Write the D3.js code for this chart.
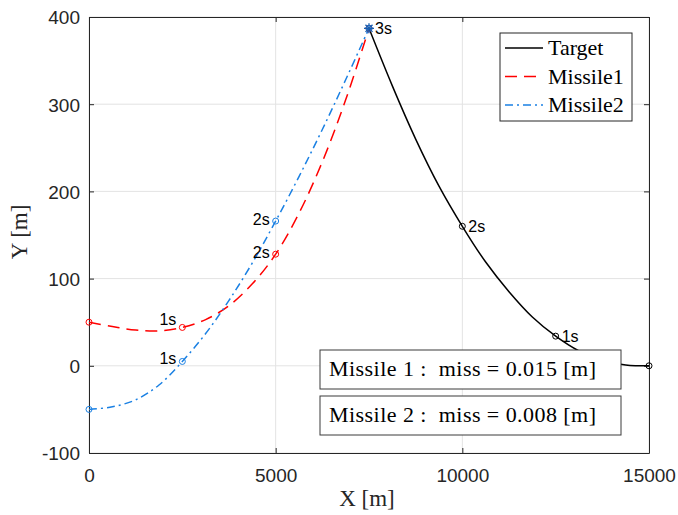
<!DOCTYPE html>
<html>
<head>
<meta charset="utf-8">
<script src="https://cdn.jsdelivr.net/npm/d3@7"></script>
<style>
  body { margin: 0; background: #fff; }
  svg { display: block; }
</style>
</head>
<body>
<div id="chart"></div>
<script>
// values (x in m, y in m), samples every 0.25 s
const missileX = [0, 625, 1250, 1875, 2500, 3125, 3750, 4375, 5000, 5625, 6250, 6875, 7500];
const missile1Y = [50, 45, 41, 40, 44, 53, 69, 94, 128, 175, 234, 305, 387];
const missile2Y = [-50, -47, -39, -22, 5, 37, 75, 118, 166, 217, 271, 328, 387];
const targetX = [15000, 14375, 13750, 13125, 12500, 11875, 11250, 10625, 10000, 9375, 8750, 8125, 7500];
const targetY = [0, 1, 6, 17, 34, 56, 85, 119, 160, 206, 260, 321, 387];
const markerIdx = [0, 4, 8, 12];      // t = 0, 1, 2, 3 s
const timeLabels = ['', '1s', '2s', '3s'];
const xTicks = [0, 5000, 10000, 15000];
const yTicks = [-100, 0, 100, 200, 300, 400];
const seriesNames = ['Target', 'Missile1', 'Missile2'];
const missText = ['Missile 1 :  miss = 0.015 [m]', 'Missile 2 :  miss = 0.008 [m]'];

const W = 678, H = 515;
const pLeft = 89, pTop = 17, pRight = 649, pBottom = 453;
const axisColor = '#262626';
const sans = "'Liberation Sans', Arial, sans-serif";
const serif = "'Liberation Serif', 'Times New Roman', serif";

const svg = d3.select('#chart').append('svg')
  .attr('width', W)
  .attr('height', H);

const x = d3.scaleLinear().domain([0, 15000]).range([pLeft, pRight]);
const y = d3.scaleLinear().domain([-100, 400]).range([pBottom, pTop]);

// grid
const grid = svg.append('g');
grid.selectAll('line.gx')
  .data(xTicks)
  .join('line')
  .attr('x1', (d) => x(d)).attr('x2', (d) => x(d))
  .attr('y1', pTop).attr('y2', pBottom)
  .attr('stroke', '#e3e3e3').attr('stroke-width', 1);
grid.selectAll('line.gy')
  .data(yTicks)
  .join('line')
  .attr('x1', pLeft).attr('x2', pRight)
  .attr('y1', (d) => y(d)).attr('y2', (d) => y(d))
  .attr('stroke', '#e3e3e3').attr('stroke-width', 1);

// axes (ticks inside, box on)
const tickLen = 5;
const plain = (d) => String(d);
const xAxisB = svg.append('g')
  .attr('transform', `translate(0,${pBottom})`)
  .call(d3.axisBottom(x).tickValues(xTicks).tickFormat(plain).tickSizeInner(-tickLen).tickSizeOuter(0).tickPadding(16));
const xAxisT = svg.append('g')
  .attr('transform', `translate(0,${pTop})`)
  .call(d3.axisTop(x).tickValues(xTicks).tickSizeInner(-tickLen).tickSizeOuter(0).tickFormat(''));
const yAxisL = svg.append('g')
  .attr('transform', `translate(${pLeft},0)`)
  .call(d3.axisLeft(y).tickValues(yTicks).tickFormat(plain).tickSizeInner(-tickLen).tickSizeOuter(0).tickPadding(9));
const yAxisR = svg.append('g')
  .attr('transform', `translate(${pRight},0)`)
  .call(d3.axisRight(y).tickValues(yTicks).tickSizeInner(-tickLen).tickSizeOuter(0).tickFormat(''));

[xAxisB, xAxisT, yAxisL, yAxisR].forEach((g) => {
  g.select('.domain').attr('stroke', axisColor).attr('stroke-width', 1);
  g.selectAll('.tick line').attr('stroke', axisColor).attr('stroke-width', 1);
  g.selectAll('.tick text')
    .attr('fill', axisColor)
    .style('font', `19px ${sans}`);
});
yAxisL.selectAll('.tick text').attr('dy', '0.36em');

// axis labels
svg.append('text')
  .attr('x', 367)
  .attr('y', 506)
  .attr('text-anchor', 'middle')
  .attr('fill', axisColor)
  .style('font', `23px ${serif}`)
  .style('white-space', 'pre')
  .text('X [m]');
svg.append('text')
  .attr('transform', `translate(27,232) rotate(-90)`)
  .attr('text-anchor', 'middle')
  .attr('fill', axisColor)
  .style('font', `23px ${serif}`)
  .style('white-space', 'pre')
  .text('Y [m]');

// trajectories
const series = [
  { name: seriesNames[0], xs: targetX, ys: targetY, color: '#000000', dash: null },
  { name: seriesNames[1], xs: missileX, ys: missile1Y, color: '#ff0000', dash: '12,7' },
  { name: seriesNames[2], xs: missileX, ys: missile2Y, color: '#1a80e3', dash: '8,4,2,4' },
];

const line = d3.line()
  .x((d) => x(d[0]))
  .y((d) => y(d[1]))
  .curve(d3.curveCatmullRom.alpha(0.5));

const plot = svg.append('g');

plot.selectAll('path.traj')
  .data(series)
  .join('path')
  .attr('class', 'traj')
  .attr('fill', 'none')
  .attr('stroke', (d) => d.color)
  .attr('stroke-width', 1.5)
  .attr('stroke-dasharray', (d) => d.dash)
  .attr('d', (d) => line(d.xs.map((v, i) => [v, d.ys[i]])));

// time markers
series.forEach((s) => {
  plot.selectAll(null)
    .data(markerIdx)
    .join('circle')
    .attr('cx', (i) => x(s.xs[i]))
    .attr('cy', (i) => y(s.ys[i]))
    .attr('r', 3)
    .attr('fill', 'none')
    .attr('stroke', s.color)
    .attr('stroke-width', 1);
});

// intercept star
const hit = [missileX[12], missile2Y[12]];
const star = plot.append('g')
  .attr('transform', `translate(${x(hit[0])},${y(hit[1])})`);
[0, 45, 90, 135].forEach((a) => {
  star.append('line')
    .attr('x1', -5).attr('x2', 5)
    .attr('transform', `rotate(${a})`)
    .attr('stroke', '#1a5fb0')
    .attr('stroke-width', 1.3);
});

// time labels
const labelFont = `16px ${sans}`;
// target: right of marker
[1, 2, 3].forEach((k) => {
  const i = markerIdx[k];
  plot.append('text')
    .attr('x', x(targetX[i]) + 6)
    .attr('y', y(targetY[i]))
    .attr('dy', '0.35em')
    .style('font', labelFont)
    .attr('fill', '#000')
    .text(timeLabels[k]);
});
// missiles: left of marker
const missileLabelDy = [[0, -8, -2], [0, -3, -2]];
[missile1Y, missile2Y].forEach((ys, m) => {
  [1, 2].forEach((k) => {
    const i = markerIdx[k];
    plot.append('text')
      .attr('x', x(missileX[i]) - 6)
      .attr('y', y(ys[i]) + missileLabelDy[m][k])
      .attr('dy', '0.35em')
      .attr('text-anchor', 'end')
      .style('font', labelFont)
      .attr('fill', '#000')
      .text(timeLabels[k]);
  });
});

// legend
const legend = svg.append('g').attr('transform', 'translate(500,33)');
legend.append('rect')
  .attr('width', 132).attr('height', 88)
  .attr('fill', '#fff')
  .attr('stroke', axisColor)
  .attr('stroke-width', 1);
series.forEach((s, i) => {
  const ly = 15 + i * 28.5;
  legend.append('line')
    .attr('x1', 5).attr('x2', 43)
    .attr('y1', ly).attr('y2', ly)
    .attr('stroke', s.color)
    .attr('stroke-width', 1.5)
    .attr('stroke-dasharray', s.dash);
  legend.append('text')
    .attr('x', 48).attr('y', ly)
    .attr('dy', '0.33em')
    .style('font', `22px ${serif}`)
    .attr('fill', '#000')
    .text(s.name);
});

// miss distance boxes
missText.forEach((t, i) => {
  const by = 350 + i * 46;
  svg.append('rect')
    .attr('x', 320).attr('y', by)
    .attr('width', 301).attr('height', 39)
    .attr('fill', '#fff')
    .attr('stroke', '#3a3a3a')
    .attr('stroke-width', 1);
  svg.append('text')
    .attr('x', 329).attr('y', by + 26)
    .attr('textLength', 267)
    .attr('lengthAdjust', 'spacing')
    .style('font', `22px ${serif}`)
    .style('white-space', 'pre')
    .attr('fill', '#000')
    .text(t);
});
</script>
</body>
</html>
